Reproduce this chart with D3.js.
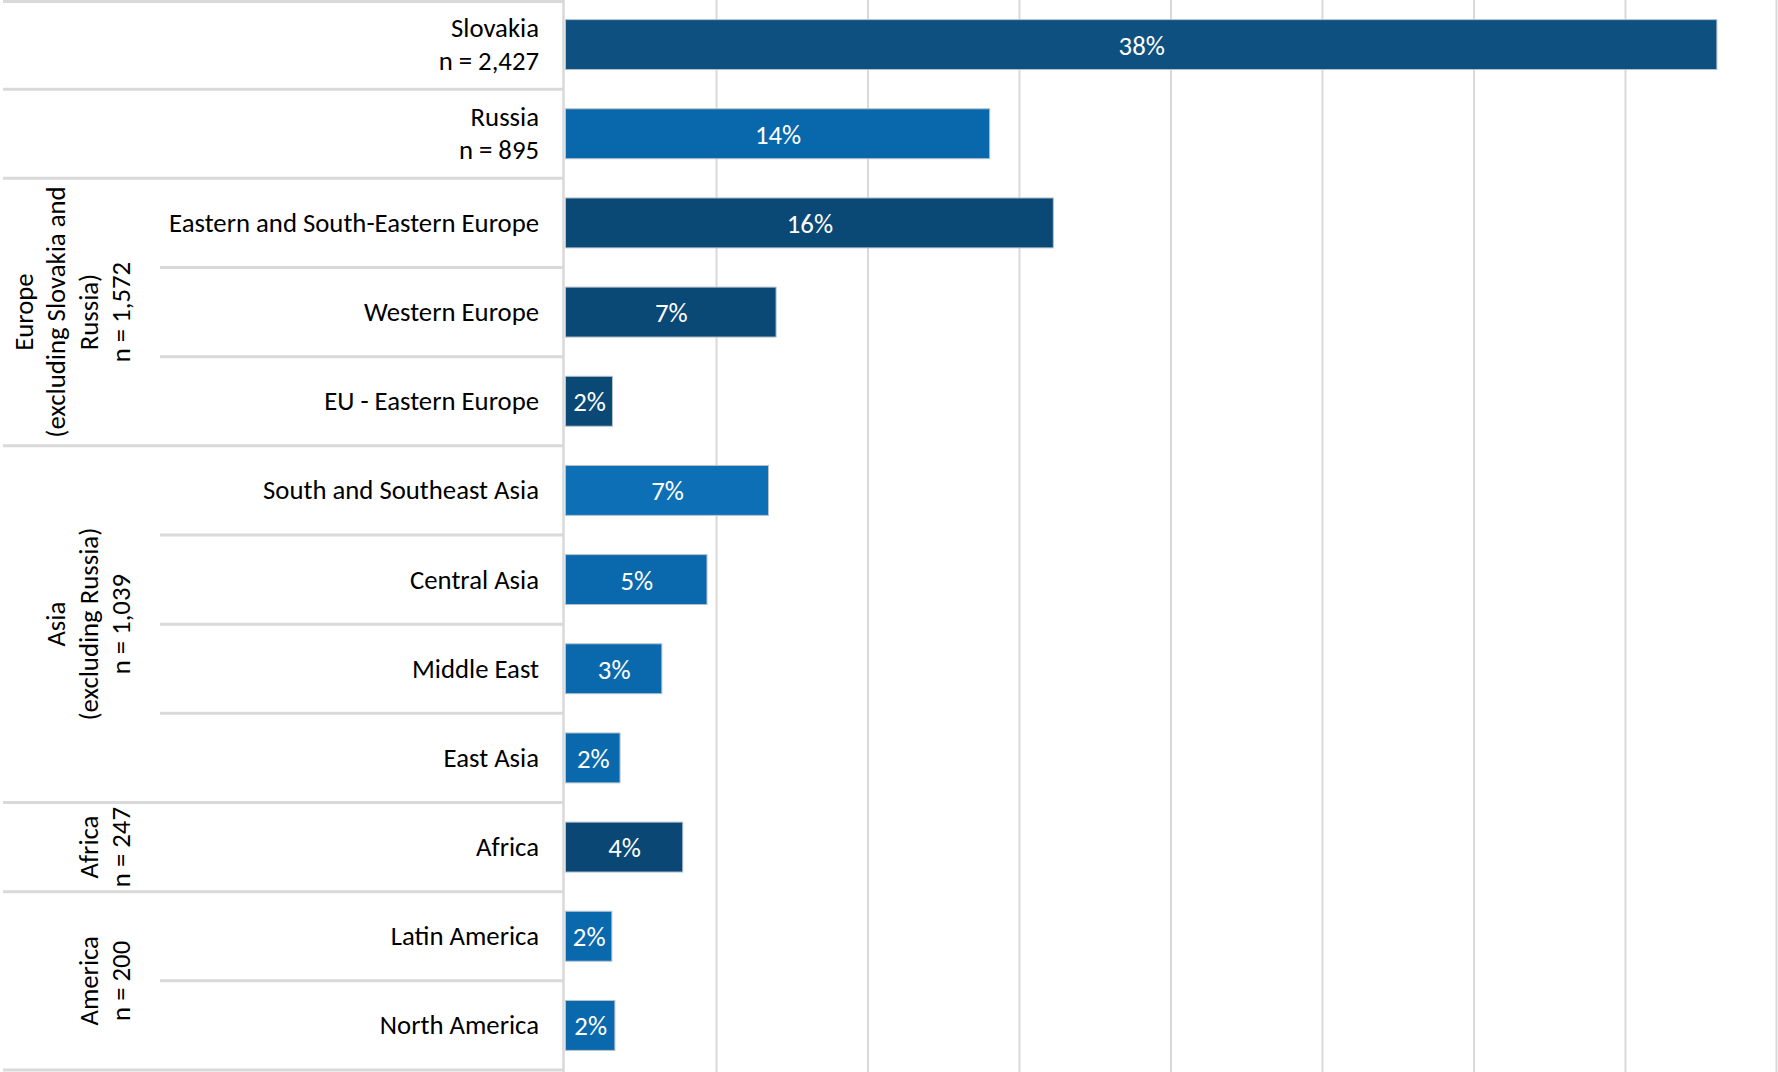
<!DOCTYPE html>
<html>
<head>
<meta charset="utf-8">
<script src="https://cdn.jsdelivr.net/npm/d3@7"></script>
<style>
  html, body { margin: 0; padding: 0; background: #ffffff; }
  svg { display: block; }
  text { font-family: Carlito, "Open Sans", Lato, sans-serif; }
</style>
</head>
<body>
<svg id="chart" width="1778" height="1072"></svg>
<script>
// ---- data ----
const categories = [
  "Slovakia", "Russia",
  "Eastern and South-Eastern Europe", "Western Europe", "EU - Eastern Europe",
  "South and Southeast Asia", "Central Asia", "Middle East", "East Asia",
  "Africa", "Latin America", "North America"
];
const categorySubLabels = ["n = 2,427", "n = 895", "", "", "", "", "", "", "", "", "", ""];
const values = [38.0, 14.0, 16.1, 6.95, 1.55, 6.7, 4.67, 3.18, 1.8, 3.87, 1.53, 1.63];
const valueLabels = ["38%", "14%", "16%", "7%", "2%", "7%", "5%", "3%", "2%", "4%", "2%", "2%"];
const barColors = ["#0e5180", "#0968ac", "#0a4876", "#0a4876", "#0a4876",
                   "#0d70b6", "#0a69ad", "#0a69ad", "#0a69ad", "#0a4775", "#0a69ad", "#0a69ad"];
const groupLines = [
  [], [],
  ["Europe", "(excluding Slovakia and", "Russia)", "n = 1,572"],
  ["Asia", "(excluding Russia)", "n = 1,039"],
  ["Africa", "n = 247"],
  ["America", "n = 200"]
];
const groupSizes = [1, 1, 3, 4, 1, 2];
const xTicks = [0, 5, 10, 15, 20, 25, 30, 35, 40];

// ---- layout ----
const W = 1778, H = 1072;
const plotLeft = 565, plotRight = 1777, plotTop = 0, plotBottom = 1070;
const labelRight = 539;
const gridColor = "#d9d9d9";

const svg = d3.select("#chart");

// fit font size so the longest label matches the reference width (~370px)
const probe = svg.append("text").attr("font-size", 24).text("Eastern and South-Eastern Europe");
const probeW = probe.node().getComputedTextLength();
probe.remove();
const fontSize = Math.max(18, Math.min(28, 24 * 370 / probeW));

const x = d3.scaleLinear().domain([0, 40]).range([plotLeft, plotRight]);
const rows = d3.scaleBand().domain(d3.range(categories.length)).range([plotTop, plotBottom]).padding(0);
const y = d3.scaleBand().domain(d3.range(categories.length)).range([plotTop, plotBottom])
  .paddingInner(0.44).paddingOuter(0.22);

// vertical gridlines
svg.append("g").selectAll("line").data(xTicks.slice(1)).join("line")
  .attr("x1", d => Math.min(x(d), W - 1.5)).attr("x2", d => Math.min(x(d), W - 1.5))
  .attr("y1", plotTop).attr("y2", plotBottom + 2)
  .attr("stroke", gridColor).attr("stroke-width", 2);

// group start indices
const groupStarts = [];
let acc = 0;
groupSizes.forEach(s => { groupStarts.push(acc); acc += s; });
const groupBoundaryIdx = new Set([...groupStarts, categories.length]);

// horizontal separators in the label table
const sepIdx = d3.range(categories.length + 1);
svg.append("g").selectAll("line").data(sepIdx).join("line")
  .attr("x1", i => groupBoundaryIdx.has(i) ? 3 : 160)
  .attr("x2", plotLeft - 1)
  .attr("y1", i => i === 0 ? 1.5 : (i === categories.length ? plotBottom : rows(i)))
  .attr("y2", i => i === 0 ? 1.5 : (i === categories.length ? plotBottom : rows(i)))
  .attr("stroke", gridColor).attr("stroke-width", 3);

// axis line (category axis)
svg.append("line")
  .attr("x1", plotLeft - 1.5).attr("x2", plotLeft - 1.5)
  .attr("y1", plotTop).attr("y2", plotBottom + 2)
  .attr("stroke", gridColor).attr("stroke-width", 2.5);

// bars
svg.append("g").selectAll("rect").data(values).join("rect")
  .attr("x", x(0) + 0.5)
  .attr("y", (d, i) => y(i))
  .attr("width", d => x(d) - x(0))
  .attr("height", y.bandwidth())
  .attr("fill", (d, i) => barColors[i])
  .attr("stroke", "#b8c2cc").attr("stroke-width", 1);

// value labels
svg.append("g").selectAll("text").data(values).join("text")
  .attr("x", d => (x(0) + x(d)) / 2 + 1)
  .attr("y", (d, i) => y(i) + y.bandwidth() / 2 + 10)
  .attr("text-anchor", "middle")
  .attr("fill", "#ffffff")
  .attr("font-size", fontSize)
  .text((d, i) => valueLabels[i]);

// category labels
const catG = svg.append("g").selectAll("text").data(categories).join("text")
  .attr("text-anchor", "end")
  .attr("fill", "#000000")
  .attr("font-size", fontSize);
catG.each(function (d, i) {
  const t = d3.select(this);
  const cy = rows(i) + rows.bandwidth() / 2;
  if (categorySubLabels[i]) {
    t.append("tspan").attr("x", labelRight).attr("y", cy - 8).text(d);
    t.append("tspan").attr("x", labelRight).attr("y", cy + 25).text(categorySubLabels[i]);
  } else {
    t.attr("x", labelRight).attr("y", cy + 9).text(d);
  }
});

// group labels (rotated)
const lastBaseline = 130, lineGap = 32.5;
groupLines.forEach((lines, g) => {
  if (!lines.length) return;
  const start = groupStarts[g], end = start + groupSizes[g];
  const cy = (rows(start) + (end === categories.length ? plotBottom : rows(end))) / 2;
  lines.forEach((ln, k) => {
    const bx = lastBaseline - lineGap * (lines.length - 1 - k);
    svg.append("text")
      .attr("transform", `translate(${bx},${cy}) rotate(-90)`)
      .attr("text-anchor", "middle")
      .attr("fill", "#000000")
      .attr("font-size", fontSize)
      .text(ln);
  });
});
</script>
</body>
</html>
